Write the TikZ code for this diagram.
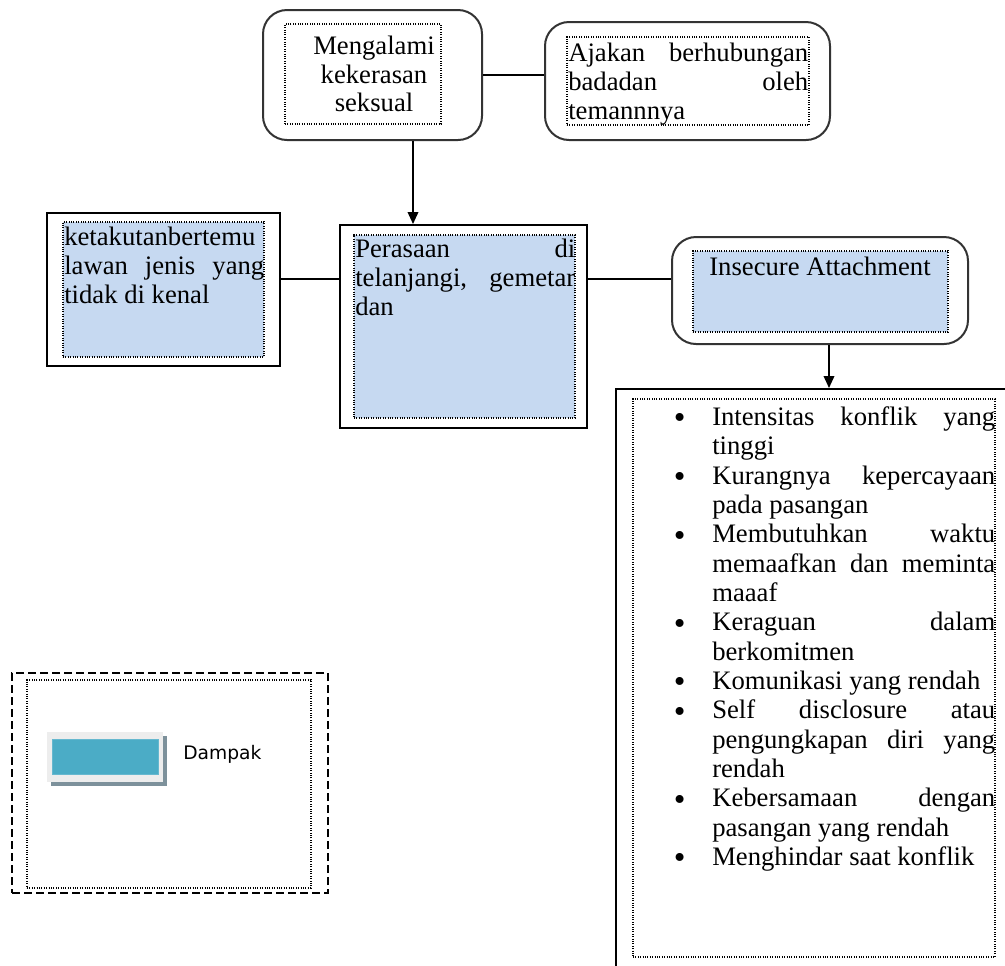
\documentclass[tikz,border=0pt]{standalone}
\usepackage{fontspec}
\setmainfont{Liberation Serif}
\newfontfamily\legendfont{DejaVu Sans}
\usepackage{enumitem}
\usetikzlibrary{fit,arrows.meta}
\definecolor{bleuclair}{HTML}{C6D9F1}
\definecolor{turquoise}{HTML}{4BACC6}
\hyphenpenalty=10000
\tolerance=10000

\begin{document}
\begin{tikzpicture}[x=0.75pt, y=-0.75pt,
    cadre/.style={draw=black, line width=1.5pt, inner sep=0pt},
    arrondi/.style={cadre, draw=black!80, rounded corners=18pt},
    pointille/.style={draw, densely dotted, line width=0.8pt, inner sep=0pt},
    texte/.style={inner sep=0pt, font=\fontsize{20}{21.5}\selectfont},
    ligne/.style={line width=1.1pt},
    fleche/.style={ligne, -{Triangle[length=9pt, width=8pt]}}]
    \useasboundingbox (0,0) rectangle (1005,965);

    % Cadres extérieurs
    \node[arrondi, fit={(263,10) (482,140)}] (kekerasan) {};
    \node[arrondi, fit={(545,22) (830,140)}] (ajakan) {};
    \node[cadre, fit={(47,213) (280,366)}] (ketakutan) {};
    \node[cadre, fit={(340,225) (587,428)}] (perasaan) {};
    \node[arrondi, fit={(672,237) (968,344)}] (insecure) {};
    \node[cadre, fit={(616,389) (1015,970)}] (dampak) {};

    % Cadres pointillés et textes
    \node[pointille, fit={(285,24) (441,124)}] (kekerasanin) {};
    \node[texte, align=center] (kekerasantxt) at (374,74)
        {Mengalami\\kekerasan\\seksual};
    \node[pointille, fit={(567,37) (809,125)}] (ajakanin) {};
    \node[texte, text width=180pt, align=justify, anchor=north west] (ajakantxt) at (568,43)
        {Ajakan berhubungan\linebreak badadan oleh\linebreak temannnya};
    \node[pointille, fill=bleuclair, fit={(63,222) (264,357)}] (ketakutanin) {};
    \node[texte, text width=150pt, align=justify, anchor=north west] (ketakutantxt) at (64,227)
        {ketakutanbertemu\linebreak lawan jenis yang\linebreak tidak di kenal};
    \node[pointille, fill=bleuclair, fit={(354,235) (575,418)}] (perasaanin) {};
    \node[texte, text width=165pt, align=justify, anchor=north west] (perasaantxt) at (355,239)
        {Perasaan di\linebreak telanjangi, gemetar\linebreak dan};
    \node[pointille, fill=bleuclair, fit={(693,251) (948,332)}] (insecurein) {};
    \node[texte, anchor=north] (insecuretxt) at (820,257) {Insecure Attachment};
    \node[pointille, fit={(633,399) (995,957)}] (dampakin) {};
    \node[texte, font=\fontsize{20}{22}\selectfont, text width=271.5pt, align=justify, anchor=north west] (liste) at (633,396) {%
        \begin{itemize}[leftmargin=59.25pt, labelsep=20pt, itemsep=0pt, topsep=0pt, parsep=0pt, partopsep=0pt,
                label={\smash{\raisebox{-2.5pt}{\fontsize{25}{22}\selectfont\textbullet}}}]
            \item Intensitas konflik yang\linebreak tinggi
            \item Kurangnya kepercayaan\linebreak pada pasangan
            \item Membutuhkan waktu\linebreak memaafkan dan meminta\linebreak maaaf
            \item Keraguan dalam\linebreak berkomitmen
            \item Komunikasi yang rendah
            \item Self disclosure atau\linebreak pengungkapan diri yang\linebreak rendah
            \item Kebersamaan dengan\linebreak pasangan yang rendah
            \item Menghindar saat konflik
        \end{itemize}};

    % Liaisons
    \coordinate (ac) at (413,0);
    \coordinate (ef) at (829,0);
    \coordinate (milieu) at (0,279);
    \draw[ligne] (kekerasan.east) -- (kekerasan.east -| ajakan.west);
    \draw[fleche] (kekerasan.south -| ac) -- (perasaan.north -| ac);
    \draw[ligne] (ketakutan.east |- milieu) -- (perasaan.west |- milieu);
    \draw[ligne] (perasaan.east |- milieu) -- (insecure.west |- milieu);
    \draw[fleche] (insecure.south -| ef) -- (dampak.north -| ef);

    % Légende
    \node[draw, line width=1.2pt, dash pattern=on 6pt off 3pt, inner sep=0pt, fit={(12,673) (328,893)}] (legende) {};
    \node[pointille, fit={(27,680) (311,888)}] (legendein) {};
    \fill[black!30!cyan!30!gray] (51,736) rectangle (167,786);
    \node[fill=black!7, inner sep=0pt, fit={(47,732) (163,782)}] (cadrepatch) {};
    \node[fill=turquoise, draw=turquoise!85, inner sep=0pt, fit={(52,739) (158,774)}] (patch) {};
    \node[inner sep=0pt, anchor=base west, font=\legendfont\fontsize{14}{16}\selectfont] (dampaktxt) at (183,759) {Dampak};
\end{tikzpicture}
\end{document}
